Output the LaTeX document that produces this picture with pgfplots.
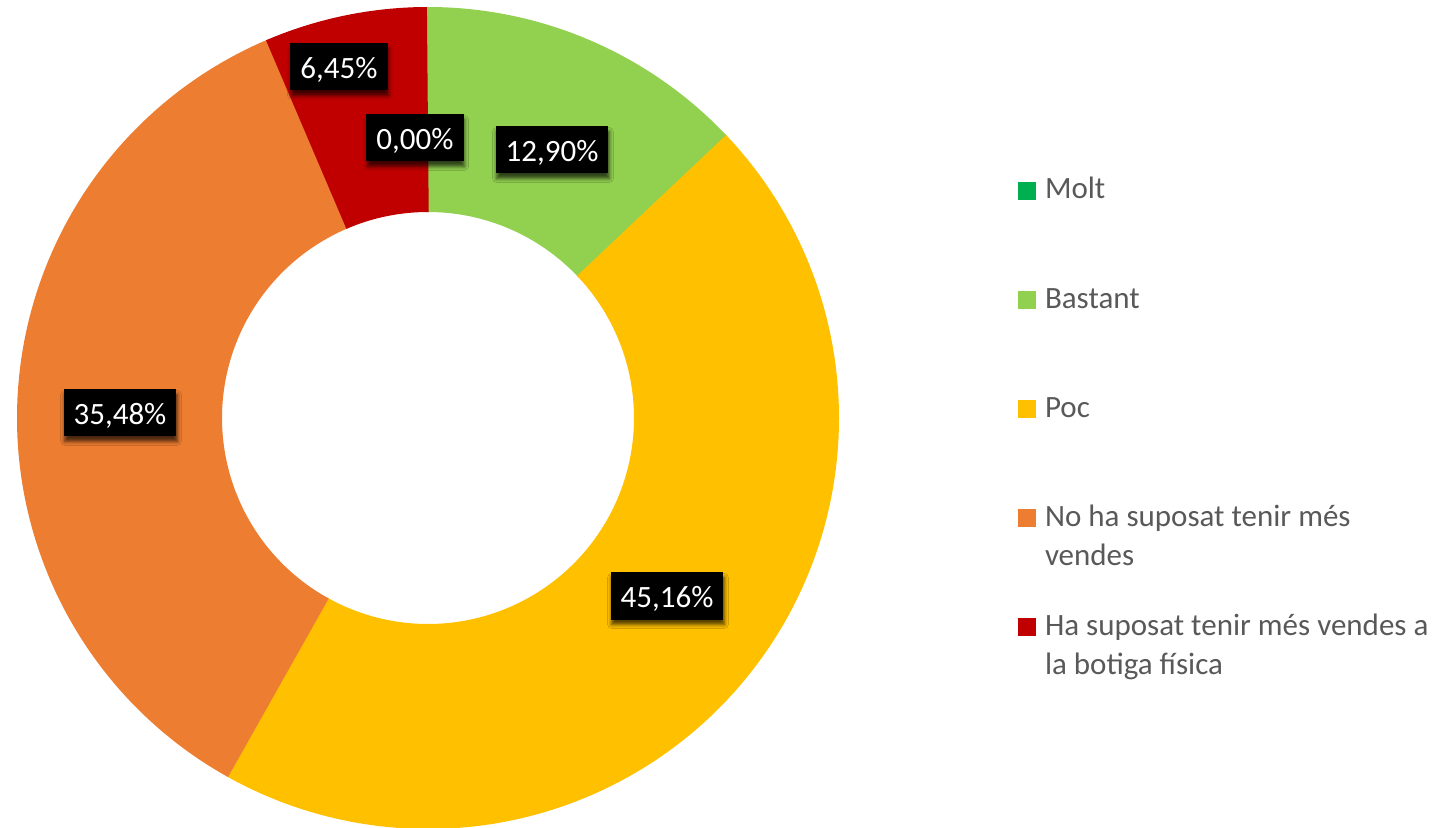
\documentclass[border=0pt]{standalone}
\usepackage{fontspec}
\setmainfont{Carlito}
\usepackage{pgfplots}
\pgfplotsset{compat=1.18}
\usepackage{pgfplotstable}
\usetikzlibrary{shadows.blur}
\definecolor{cMolt}{HTML}{00B050}
\definecolor{cBastant}{HTML}{92D050}
\definecolor{cPoc}{HTML}{FFC000}
\definecolor{cNo}{HTML}{ED7D31}
\definecolor{cHa}{HTML}{C00000}
\definecolor{legendgray}{HTML}{595959}

\pgfplotstableread{
value
0.00
12.90
45.16
35.48
6.45
}\datatable
\pgfplotstablegetelem{0}{value}\of\datatable \let\vA\pgfplotsretval
\pgfplotstablegetelem{1}{value}\of\datatable \let\vB\pgfplotsretval
\pgfplotstablegetelem{2}{value}\of\datatable \let\vC\pgfplotsretval
\pgfplotstablegetelem{3}{value}\of\datatable \let\vD\pgfplotsretval
\pgfplotstablegetelem{4}{value}\of\datatable \let\vE\pgfplotsretval
\pgfmathsetmacro\aS{90}
\pgfmathsetmacro\aA{\aS-3.6*\vA}
\pgfmathsetmacro\aB{\aA-3.6*\vB}
\pgfmathsetmacro\aC{\aB-3.6*\vC}
\pgfmathsetmacro\aD{\aC-3.6*\vD}
\pgfmathsetmacro\aE{\aD-3.6*\vE}
\newcommand\twolines[2]{\vtop{\hbox{#1}\hbox{#2}}}

\begin{document}
\begin{tikzpicture}
\begin{axis}[
  name=ax,
  x=0.5bp, y=0.5bp, scale only axis,
  xmin=0, xmax=1454, ymin=0, ymax=827,
  hide axis, clip=true,
  legend style={draw=none, fill=none, inner sep=0pt, outer sep=0pt,
    column sep=4.5bp, row sep=0pt,
    at={(axis cs:1018,652)}, anchor=north west,
    nodes={inner sep=0pt, text=legendgray,
      font=\fontsize{15.5bp}{19.5bp}\selectfont,
      text height=12bp, text depth=42.5bp, anchor=base west}},
  legend image code/.code={\fill[#1] (0bp,-0.5bp) rectangle (9bp,8.5bp);},
]
\addlegendimage{fill=cMolt, draw=none}
\addlegendentry{Molt}
\addplot[draw=cBastant, line width=102.5bp, samples=120, domain=\aB-0.4:\aA+0.4, variable=\t, forget plot]
  ({428+308.5*cos(\t)},{409+308.5*sin(\t)});
\addlegendimage{fill=cBastant, draw=none}
\addlegendentry{Bastant}
\addplot[draw=cPoc, line width=102.5bp, samples=240, domain=\aC-0.4:\aB, variable=\t, forget plot]
  ({428+308.5*cos(\t)},{409+308.5*sin(\t)});
\addlegendimage{fill=cPoc, draw=none}
\addlegendentry{Poc}
\addplot[draw=cNo, line width=102.5bp, samples=200, domain=\aD-0.4:\aC, variable=\t, forget plot]
  ({428+308.5*cos(\t)},{409+308.5*sin(\t)});
\addlegendimage{fill=cNo, draw=none}
\addlegendentry{\twolines{No ha suposat tenir més}{vendes}}
\addplot[draw=cHa, line width=102.5bp, samples=60, domain=\aE:\aD, variable=\t, forget plot]
  ({428+308.5*cos(\t)},{409+308.5*sin(\t)});
\addlegendimage{fill=cHa, draw=none}
\addlegendentry{\twolines{Ha suposat tenir més vendes a}{la botiga física}}

\tikzset{lbl/.style={fill=black, text=white, inner xsep=5bp, inner ysep=0pt,
  minimum height=23.5bp, text height=11.8bp, text depth=0pt,
  font=\fontsize{15.5bp}{18bp}\selectfont,
  blur shadow={shadow xshift=0.5bp, shadow yshift=-2.5bp, shadow blur radius=2bp, shadow opacity=70}}}
\node[lbl] at (axis cs:339,760) {6,45\%};
\node[lbl] at (axis cs:415,689) {0,00\%};
\node[lbl] at (axis cs:552,677) {12,90\%};
\node[lbl] at (axis cs:667,231) {45,16\%};
\node[lbl] at (axis cs:120,414) {35,48\%};
\end{axis}
\pgfresetboundingbox
\path[use as bounding box] (ax.south west) rectangle (ax.north east);
\end{tikzpicture}
\end{document}
